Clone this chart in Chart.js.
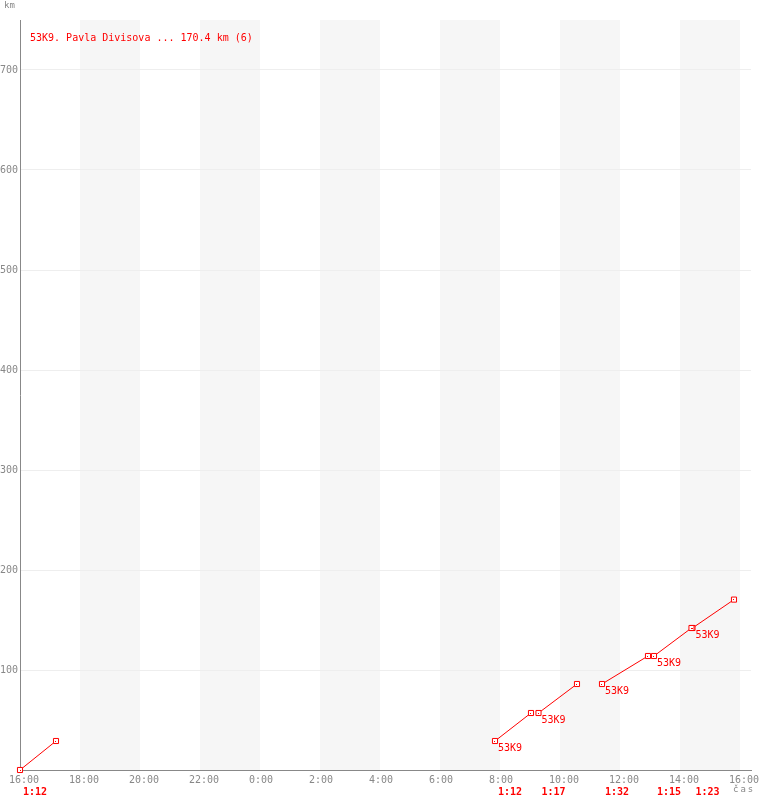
<!DOCTYPE html>
<html>
<head>
<meta charset="utf-8">
<script src="https://cdn.jsdelivr.net/npm/chart.js@4"></script>
<style>
  html, body { margin: 0; padding: 0; background: #fff; }
  #wrap { width: 760px; height: 800px; position: relative; }
</style>
</head>
<body>
<div id="wrap"><canvas id="c" width="760" height="800"></canvas></div>
<script>
// ---- data ----
const vehicle = "53K9";
const chartTitle = "53K9. Pavla Divisova ... 170.4 km (6)";
const tripStart = ["16:00", "7:50", "9:17", "11:24", "13:08", "14:25"];
const tripEnd   = ["17:12", "9:02", "10:34", "12:56", "14:23", "15:48"];
const kmStart   = [0, 29, 57, 86, 114, 142];
const kmEnd     = [29, 57, 86, 114, 142, 170.4];
const durations = ["1:12", "1:12", "1:17", "1:32", "1:15", "1:23"];
const xTickLabels = ["16:00","18:00","20:00","22:00","0:00","2:00","4:00","6:00","8:00","10:00","12:00","14:00","16:00"];
const yTickValues = [100, 200, 300, 400, 500, 600, 700];
const shadedBands = [[2, 4], [6, 8], [10, 12], [14, 16], [18, 20], [22, 24]]; // hours after 16:00

// hours since 16:00 of the first day
function toHours(s) {
  const [h, m] = s.split(":").map(Number);
  let v = h + m / 60 - 16;
  if (v < 0) v += 24;
  return v;
}

const RED = "#ff0000";
const GRAY = "#888888";
const MONO = "'DejaVu Sans Mono', 'Liberation Mono', monospace";

const datasets = tripStart.map((s, i) => ({
  label: vehicle + " " + (i + 1),
  data: [{ x: toHours(s), y: kmStart[i] }, { x: toHours(tripEnd[i]), y: kmEnd[i] }],
  showLine: true,
  borderColor: RED,
  borderWidth: 1,
  pointStyle: "rect",
  pointRadius: 3.6,
  pointHoverRadius: 3.6,
  pointBackgroundColor: "#ffffff",
  pointBorderColor: RED,
  pointBorderWidth: 1,
  clip: false
}));

const decor = {
  id: "decor",
  beforeDraw(chart) {
    const { ctx, chartArea: a, scales: { x } } = chart;
    ctx.save();
    ctx.fillStyle = "#f6f6f6";
    shadedBands.forEach(([b0, b1]) => {
      const p0 = x.getPixelForValue(b0), p1 = x.getPixelForValue(b1);
      ctx.fillRect(p0, a.top, p1 - p0, a.bottom - a.top);
    });
    ctx.restore();
  },
  afterDatasetsDraw(chart) {
    const { ctx, chartArea: a } = chart;
    ctx.save();
    // centre dots of markers
    ctx.fillStyle = RED;
    chart.data.datasets.forEach((ds, i) => {
      chart.getDatasetMeta(i).data.forEach(p => {
        ctx.fillRect(Math.round(p.x - 0.5), Math.round(p.y - 0.5), 1, 1);
      });
    });
    // vehicle labels at trip starts (clipped to plot area)
    ctx.font = "10px " + MONO;
    ctx.textBaseline = "middle";
    ctx.textAlign = "left";
    chart.data.datasets.forEach((ds, i) => {
      const p = chart.getDatasetMeta(i).data[0];
      if (p.y + 12 <= a.bottom) ctx.fillText(vehicle, p.x + 3, p.y + 7);
    });
    // duration labels below the axis
    ctx.font = "bold 10px " + MONO;
    durations.forEach((d, i) => {
      const p = chart.getDatasetMeta(i).data[0];
      ctx.fillText(d, p.x + 3, a.bottom + 22);
    });
    // title
    ctx.font = "10px " + MONO;
    ctx.fillText(chartTitle, a.left + 10, a.top + 18);
    // axis titles
    ctx.fillStyle = GRAY;
    ctx.font = "9px " + MONO;
    ctx.fillText("km", 4, 6);
    try { ctx.letterSpacing = "2px"; } catch (e) {}
    ctx.fillText("čas", 733, a.bottom + 20);
    ctx.restore();
  }
};

new Chart(document.getElementById("c"), {
  type: "scatter",
  data: { datasets },
  plugins: [decor],
  options: {
    responsive: false,
    animation: false,
    events: [],
    layout: { autoPadding: false, padding: { top: 20, right: 9, left: 0, bottom: 0 } },
    plugins: { legend: { display: false }, tooltip: { enabled: false }, title: { display: false } },
    scales: {
      x: {
        type: "linear",
        min: 0,
        max: 24.367,
        grid: { display: false, drawTicks: false },
        border: { display: true, color: GRAY, width: 1 },
        afterBuildTicks(scale) { scale.ticks = xTickLabels.map((_, i) => ({ value: i * 2 })); },
        afterFit(scale) { scale.height = 30; scale.paddingLeft = 0; scale.paddingRight = 0; },
        ticks: {
          autoSkip: false,
          maxRotation: 0,
          align: "start",
          labelOffset: -11,
          padding: 4,
          color: GRAY,
          font: { family: MONO, size: 10 },
          callback: (v, i) => xTickLabels[i]
        }
      },
      y: {
        type: "linear",
        min: 0,
        max: 750,
        grid: { color: "#eeeeee", drawTicks: false },
        border: { display: true, color: GRAY, width: 1 },
        afterBuildTicks(scale) { scale.ticks = yTickValues.map(v => ({ value: v })); },
        afterFit(scale) { scale.width = 20; scale.paddingTop = 0; scale.paddingBottom = 0; },
        ticks: {
          padding: 2,
          color: GRAY,
          font: { family: MONO, size: 10 },
          callback: v => String(v)
        }
      }
    }
  }
});
</script>
</body>
</html>
